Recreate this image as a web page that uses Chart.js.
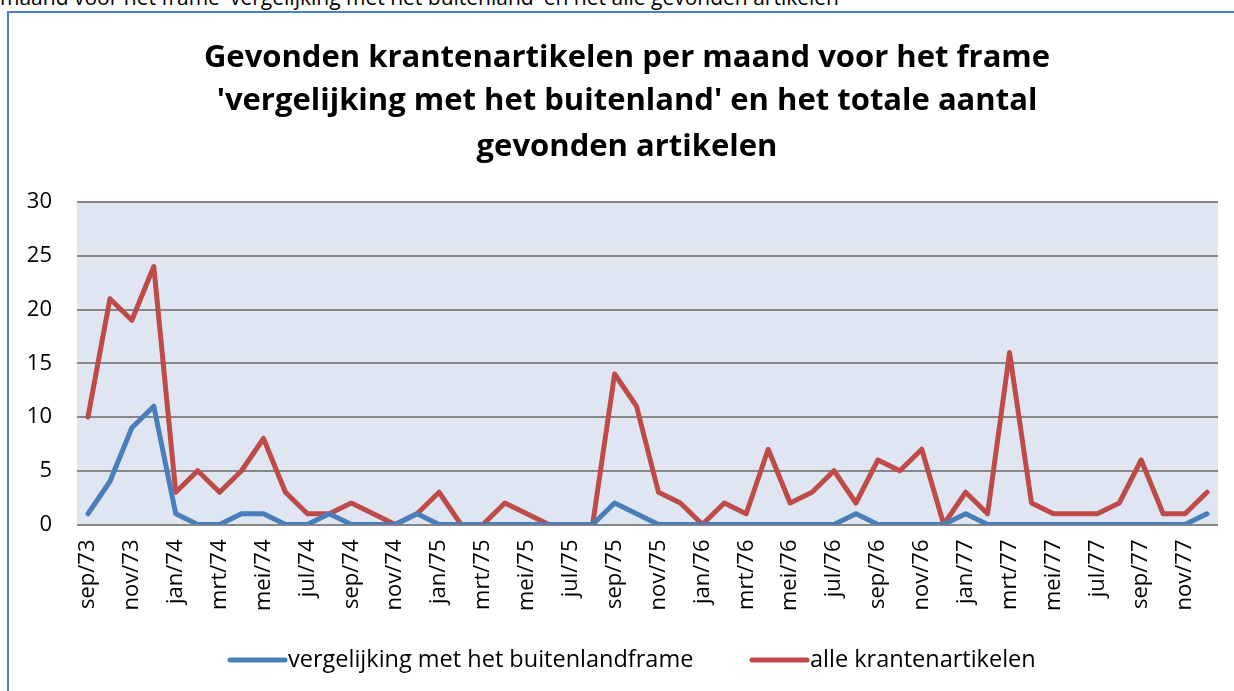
<!DOCTYPE html>
<html><head><meta charset="utf-8">
<script src="https://cdn.jsdelivr.net/npm/chart.js@4.4.0/dist/chart.umd.min.js"></script>
<style>
html,body{margin:0;padding:0;background:#fff;overflow:hidden;}
#wrap{position:relative;width:1234px;height:691px;overflow:hidden;}
#frame{position:absolute;left:7px;top:11px;width:1300px;height:800px;border-left:2px solid #4f81bd;border-top:2px solid #4f81bd;}
#cut{position:absolute;left:0;top:-17px;font-family:'Open Sans';font-size:21px;white-space:nowrap;color:#000;}
canvas{position:absolute;left:0;top:0;}
</style></head>
<body><div id="wrap"><div id="cut">maand voor het frame 'vergelijking met het buitenland' en het alle gevonden artikelen</div><div id="frame"></div><canvas id="c" width="1234" height="691"></canvas></div>
<script>
const months = ["sep/73","okt/73","nov/73","dec/73",
"jan/74","feb/74","mrt/74","apr/74","mei/74","jun/74","jul/74","aug/74","sep/74","okt/74","nov/74","dec/74",
"jan/75","feb/75","mrt/75","apr/75","mei/75","jun/75","jul/75","aug/75","sep/75","okt/75","nov/75","dec/75",
"jan/76","feb/76","mrt/76","apr/76","mei/76","jun/76","jul/76","aug/76","sep/76","okt/76","nov/76","dec/76",
"jan/77","feb/77","mrt/77","apr/77","mei/77","jun/77","jul/77","aug/77","sep/77","okt/77","nov/77","dec/77"];
const vergelijking = [1,4,9,11, 1,0,0,1,1,0,0,1,0,0,0,1, 0,0,0,0,0,0,0,0,2,1,0,0, 0,0,0,0,0,0,0,1,0,0,0,0, 1,0,0,0,0,0,0,0,0,0,0,1];
const alle = [10,21,19,24, 3,5,3,5,8,3,1,1,2,1,0,1, 3,0,0,2,1,0,0,0,14,11,3,2, 0,2,1,7,2,3,5,2,6,5,7,0, 3,1,16,2,1,1,1,2,6,1,1,3];
const titleLines = ["Gevonden krantenartikelen per maand voor het frame","'vergelijking met het buitenland' en het totale aantal","gevonden artikelen"];
const seriesNames = ["vergelijking met het buitenlandframe","alle krantenartikelen"];
const blue = "#4a7ebb", red = "#be4b48";

const bgPlugin = {
  id:'bg',
  beforeDraw(chart){
    const {ctx, chartArea:a} = chart;
    ctx.save(); ctx.fillStyle = "#dfe6f1"; ctx.fillRect(a.left, a.top, a.right-a.left, a.bottom-a.top); ctx.restore();
  }
};
const titlePlugin = {
  id:'customTitle',
  afterDraw(chart){
    const ctx = chart.ctx;
    const ys = [58, 101, 147];
    ctx.save();
    ctx.font = "bold 31px 'Open Sans'";
    ctx.fillStyle = "#000"; ctx.textAlign = "center"; ctx.textBaseline = "middle";
    titleLines.forEach((t,i)=>ctx.fillText(t, 627, ys[i]));
    ctx.restore();
  }
};
const legendPlugin = {
  id:'customLegend',
  afterDraw(chart){
    const ctx = chart.ctx;
    const y = 660;
    const items = [{x:230, color:blue, text:seriesNames[0]},{x:752, color:red, text:seriesNames[1]}];
    ctx.save();
    ctx.font = "23.5px 'Open Sans'";
    ctx.textBaseline = "middle";
    items.forEach(it=>{
      ctx.strokeStyle = it.color; ctx.lineWidth = 5; ctx.lineCap = "round";
      ctx.beginPath(); ctx.moveTo(it.x, y); ctx.lineTo(it.x+55, y); ctx.stroke();
      ctx.fillStyle = "#000"; ctx.fillText(it.text, it.x+58, y);
    });
    ctx.restore();
  }
};

new Chart(document.getElementById('c'), {
  type:'line',
  data:{
    labels: months,
    datasets:[
      {label:seriesNames[0], data:vergelijking, borderColor:blue, backgroundColor:blue, borderWidth:5, pointRadius:0, tension:0, borderJoinStyle:'round', borderCapStyle:'round'},
      {label:seriesNames[1], data:alle, borderColor:red, backgroundColor:red, borderWidth:5, pointRadius:0, tension:0, borderJoinStyle:'round', borderCapStyle:'round'}
    ]
  },
  options:{
    responsive:false, animation:false, devicePixelRatio:1,
    layout:{padding:{left:20, right:16, top:202, bottom:65}},
    plugins:{
      legend:{display:false},
      tooltip:{enabled:false},
      title:{display:false}
    },
    scales:{
      x:{
        offset:true,
        grid:{display:false, drawTicks:false},
        border:{display:false},
        ticks:{autoSkip:false, maxRotation:90, minRotation:90, padding:15, color:"#000", font:{family:"'Open Sans'", size:22},
          callback:(v,i)=> i%2===0 ? months[i] : ''},
        afterFit:(s)=>{ s.paddingRight = 0; s.paddingLeft = 0; }
      },
      y:{
        min:0, max:30,
        grid:{color:"#878787", lineWidth:2, drawTicks:false},
        border:{display:false},
        ticks:{stepSize:5, padding:25, color:"#000", font:{family:"'Open Sans'", size:22}},
        afterFit:(s)=>{ s.width = 57; }
      }
    }
  },
  plugins:[bgPlugin, titlePlugin, legendPlugin]
});
</script>
</body></html>
